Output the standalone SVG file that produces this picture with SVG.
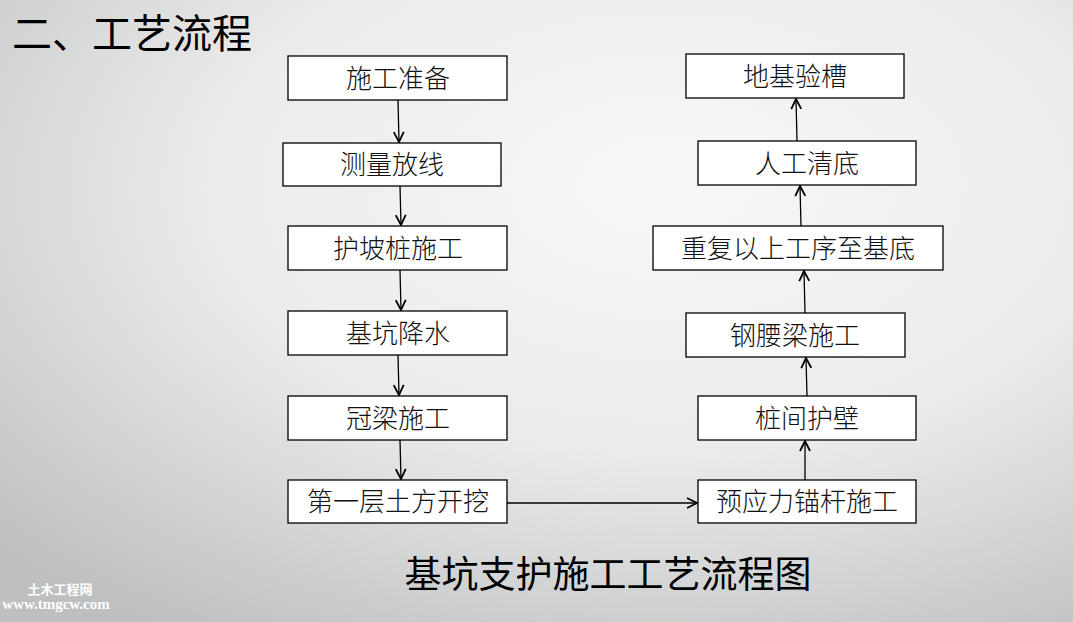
<svg xmlns="http://www.w3.org/2000/svg" width="1073" height="622" viewBox="0 0 1073 622">
<defs>
<radialGradient id="bg" cx="0.62" cy="0.3" r="0.85">
<stop offset="0" stop-color="#f8f8f8"/>
<stop offset="0.5" stop-color="#ebebeb"/>
<stop offset="1" stop-color="#bdbfc0"/>
</radialGradient>
<marker id="ah" viewBox="0 0 12 12" refX="11" refY="6" markerWidth="12" markerHeight="12" markerUnits="userSpaceOnUse" orient="auto">
<path d="M1,1 L11,6 L1,11" fill="none" stroke="#000" stroke-width="1.8"/>
</marker>
<style>
.box{fill:#fff;stroke:#000;stroke-width:1.3}
.t{font-family:"Noto Sans CJK SC",sans-serif;font-size:26px;font-weight:300;fill:#111;text-anchor:middle;dominant-baseline:central}
.c{stroke:#000;stroke-width:1.3;fill:none;marker-end:url(#ah)}
</style>
</defs>
<rect width="1073" height="622" fill="url(#bg)"/>
<text x="12" y="48" font-family="Noto Sans CJK SC,sans-serif" font-size="40" fill="#000">二、工艺流程</text>
<text x="608" y="588" font-family="Noto Sans CJK SC,sans-serif" font-size="37" text-anchor="middle" fill="#000">基坑支护施工工艺流程图</text>
<g id="watermark" font-family="Liberation Serif,Noto Sans CJK SC,serif" font-weight="bold" fill="#fff" text-anchor="middle">
<text x="60" y="594" font-size="13">土木工程网</text>
<text x="56" y="609" font-size="15">www.tmgcw.com</text>
</g>
<g id="connectors">
<line class="c" x1="398" y1="100" x2="399" y2="142"/>
<line class="c" x1="400" y1="186" x2="401" y2="225"/>
<line class="c" x1="400" y1="270" x2="401" y2="310"/>
<line class="c" x1="398" y1="355" x2="399" y2="395"/>
<line class="c" x1="400" y1="440" x2="401" y2="479"/>
<line class="c" x1="507" y1="503" x2="697" y2="503"/>
<line class="c" x1="805" y1="480" x2="805" y2="441"/>
<line class="c" x1="807" y1="396" x2="806" y2="358"/>
<line class="c" x1="805" y1="313" x2="804" y2="271"/>
<line class="c" x1="801" y1="226" x2="800" y2="186"/>
<line class="c" x1="797" y1="141" x2="796" y2="99"/>
</g>
<g id="n1"><rect class="box" x="288" y="56" width="219" height="44"/><text class="t" x="398" y="76">施工准备</text></g>
<g id="n2"><rect class="box" x="283" y="143" width="218" height="43"/><text class="t" x="392" y="162">测量放线</text></g>
<g id="n3"><rect class="box" x="288" y="226" width="219" height="44"/><text class="t" x="398" y="246">护坡桩施工</text></g>
<g id="n4"><rect class="box" x="288" y="311" width="219" height="44"/><text class="t" x="398" y="331">基坑降水</text></g>
<g id="n5"><rect class="box" x="288" y="396" width="219" height="44"/><text class="t" x="398" y="416">冠梁施工</text></g>
<g id="n6"><rect class="box" x="288" y="480" width="219" height="43"/><text class="t" x="398" y="499">第一层土方开挖</text></g>
<g id="m1"><rect class="box" x="686" y="54" width="218" height="44"/><text class="t" x="795" y="74">地基验槽</text></g>
<g id="m2"><rect class="box" x="698" y="141" width="218" height="44"/><text class="t" x="807" y="161">人工清底</text></g>
<g id="m3"><rect class="box" x="653" y="226" width="290" height="44"/><text class="t" x="798" y="246">重复以上工序至基底</text></g>
<g id="m4"><rect class="box" x="686" y="313" width="219" height="44"/><text class="t" x="795" y="333">钢腰梁施工</text></g>
<g id="m5"><rect class="box" x="698" y="396" width="218" height="44"/><text class="t" x="807" y="416">桩间护壁</text></g>
<g id="m6"><rect class="box" x="698" y="480" width="218" height="43"/><text class="t" x="807" y="499">预应力锚杆施工</text></g>
</svg>
